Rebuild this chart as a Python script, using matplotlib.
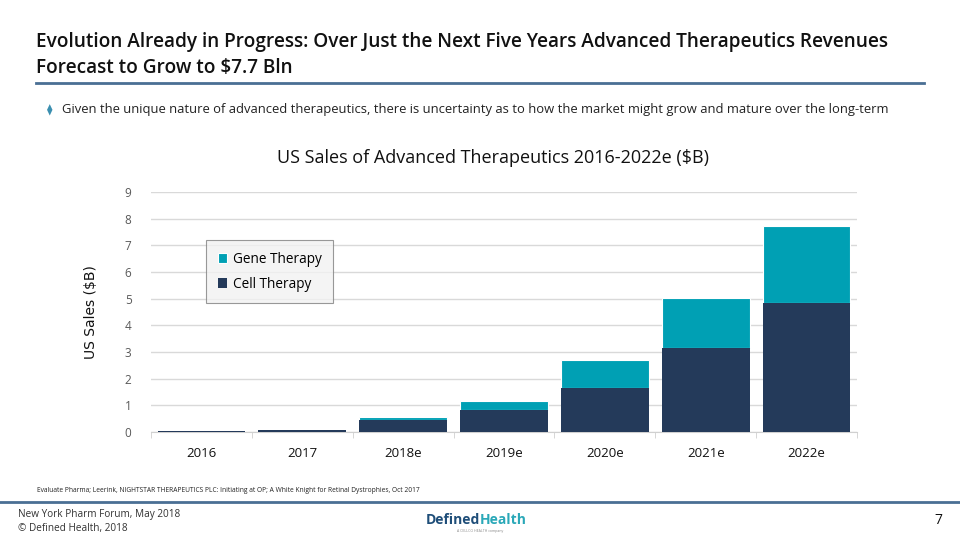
import matplotlib.pyplot as plt
import numpy as np

#---Data---
years = ["2016", "2017", "2018e", "2019e", "2020e", "2021e", "2022e"]
cell_therapy = [0.05, 0.08, 0.45, 0.82, 1.64, 3.14, 4.82]
gene_therapy = [0.0, 0.0, 0.13, 0.35, 1.06, 1.87, 2.90]

#---Colors---
navy = '#243A5A'
teal = '#00A0B4'
rule = '#4A6F94'

plt.rcParams['font.family'] = ['Open Sans', 'DejaVu Sans']

fig = plt.figure(figsize=(9.6, 5.4), dpi=100)

#---Header---
fig.text(36/960, 1-42/540, "Evolution Already in Progress: Over Just the Next Five Years Advanced Therapeutics Revenues",
         fontsize=13.7, fontweight='semibold', color='#111111', va='center', ha='left')
fig.text(36/960, 1-68/540, "Forecast to Grow to $7.7 Bln",
         fontsize=13.7, fontweight='semibold', color='#111111', va='center', ha='left')
fig.add_artist(plt.Line2D([36/960, 924/960], [1-83/540, 1-83/540], color=rule, lw=2))

fig.text(50/960, 1-111/540, u"\u29eb", fontsize=8, color='#3B8FB0', va='center', ha='center')
fig.text(62/960, 1-110/540, "Given the unique nature of advanced therapeutics, there is uncertainty as to how the market might grow and mature over the long-term",
         fontsize=9.4, color='#222222', va='center', ha='left')

fig.text(493/960, 1-158/540, "US Sales of Advanced Therapeutics 2016-2022e ($B)",
         fontsize=13, color='#111111', va='center', ha='center')

#---Chart---
ax = fig.add_axes([151/960, 1-432/540, 706/960, 240/540])
x = np.arange(len(years))
ax.bar(x, cell_therapy, width=0.87, color=navy, label='Cell Therapy', zorder=3)
ax.bar(x, gene_therapy, width=0.87, bottom=cell_therapy, color=teal, label='Gene Therapy',
       edgecolor='white', linewidth=0.8, zorder=3)
ax.bar(x, cell_therapy, width=0.87, color=navy, zorder=4)

ax.set_ylim(0, 9)
ax.set_xlim(-0.5, len(years) - 0.5)
ax.set_yticks(range(0, 10))
ax.tick_params(axis='y', length=0, colors='#595959', labelsize=8.5, pad=14)
ax.set_xticks(x)
ax.set_xticklabels(years, fontsize=9.5, color='#111111')
ax.set_xticks(np.arange(-0.5, len(years)), minor=True)
ax.tick_params(axis='x', which='major', length=0, pad=11)
ax.tick_params(axis='x', which='minor', length=4, color='#d0d0d0')
ax.grid(axis='y', color='#d9d9d9', lw=1, zorder=0)
for s in ['top', 'right', 'left']:
    ax.spines[s].set_visible(False)
ax.spines['bottom'].set_color('#d0d0d0')
ax.set_ylabel("US Sales ($B)", fontsize=10, color='#111111', family=['DejaVu Sans'])
ax.yaxis.set_label_coords(-0.075, 0.5)

handles, labels = ax.get_legend_handles_labels()
leg = ax.legend(handles[::-1], labels[::-1], loc='upper left', bbox_to_anchor=(55/706, 1-48/240),
                frameon=True, fancybox=False, fontsize=9.8, handlelength=0.7, handleheight=0.7,
                labelspacing=0.75, borderpad=0.85, handletextpad=0.4, borderaxespad=0)
leg.get_frame().set_facecolor('#f2f2f2')
leg.get_frame().set_edgecolor('#808080')
leg.get_frame().set_linewidth(0.8)
leg.set_zorder(5)

#---Footer---
fig.text(37/960, 1-490/540, "Evaluate Pharma; Leerink, NIGHTSTAR THERAPEUTICS PLC: Initiating at OP; A White Knight for Retinal Dystrophies, Oct 2017",
         fontsize=4.8, color='#222222', va='center', ha='left')
fig.add_artist(plt.Line2D([0, 1], [1-502/540, 1-502/540], color=rule, lw=2))
fig.text(18/960, 1-515/540, "New York Pharm Forum, May 2018", fontsize=7.2, color='#333333', va='center')
fig.text(18/960, 1-528/540, u"\u00a9 Defined Health, 2018", fontsize=7.2, color='#333333', va='center')
fig.text(480/960, 1-520/540, "Defined", fontsize=10, fontweight='bold', color='#1F4E79', va='center', ha='right')
fig.text(480/960, 1-520/540, "Health", fontsize=10, fontweight='bold', color='#2AA8B8', va='center', ha='left')
fig.text(480/960, 1-531/540, "A CELLCO HEALTH company", fontsize=2.5, color='#888888', va='center', ha='center')
fig.text(938/960, 1-521/540, "7", fontsize=10, color='#111111', va='center', ha='center')

fig.savefig("out.png", dpi=100)
